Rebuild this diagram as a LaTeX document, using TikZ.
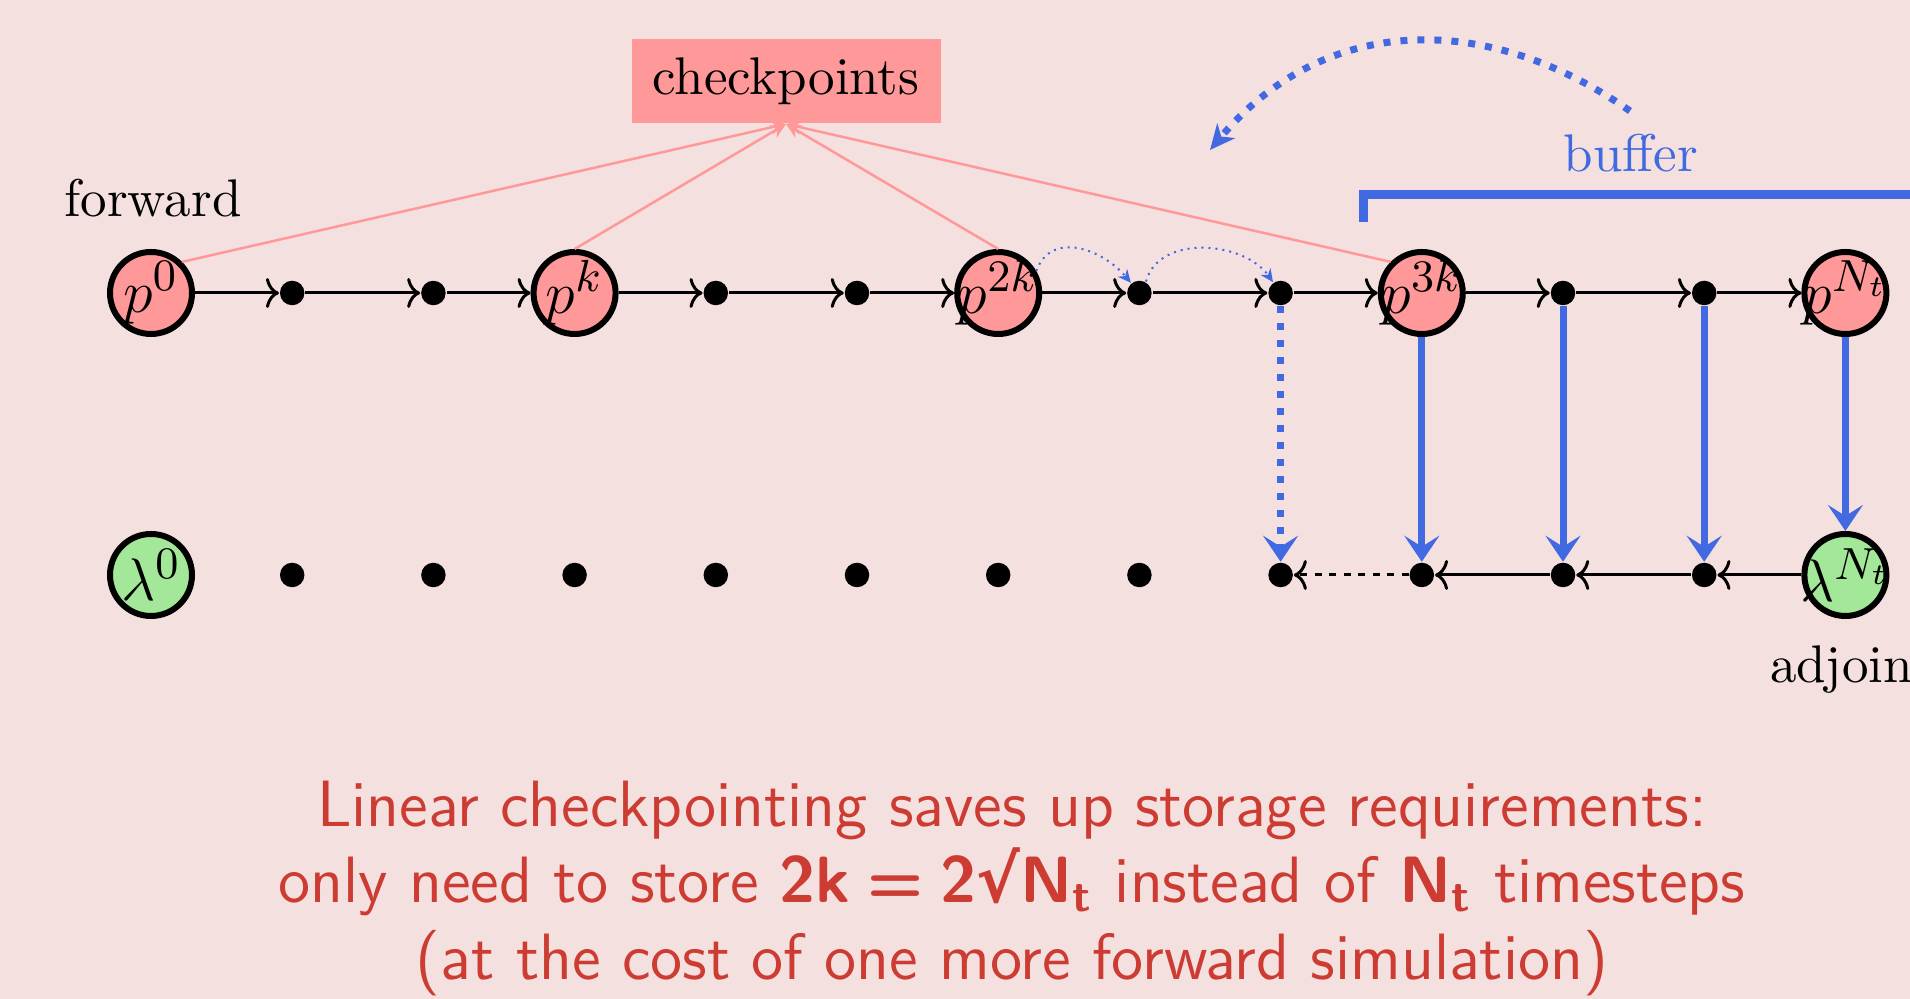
\documentclass[tikz,border=0pt]{standalone}
\usepackage{fontspec}
\newfontfamily\dvs{DejaVu Sans}
\usetikzlibrary{arrows.meta}
\definecolor{bg}{RGB}{245,224,224}
\definecolor{cpred}{RGB}{255,153,153}
\definecolor{adjgreen}{RGB}{163,231,152}
\definecolor{bufblue}{RGB}{65,105,225}
\definecolor{msgred}{RGB}{205,60,50}
\tikzset{
  pn/.style={circle, draw=black, line width=1.2pt, fill=cpred, minimum size=16.4pt, inner sep=0pt, font=\fontsize{12.5}{15}\selectfont},
  an/.style={pn, fill=adjgreen},
  dn/.style={circle, fill=black, minimum size=4.9pt, inner sep=0pt},
  fwd/.style={-{To[length=2.6pt,width=6pt]}, line width=0.6pt, draw=black},
  bwdash/.style={-{To[length=2.6pt,width=6pt]}, line width=0.6pt, draw=black, dash pattern=on 1.4pt off 1.5pt},
  cpl/.style={-{Stealth[length=3pt,width=2.8pt]}, line width=0.5pt, draw=cpred},
  bdown/.style={-{Stealth[length=5.2pt,width=7pt,inset=2.2pt]}, line width=1.4pt, draw=bufblue},
  bdot/.style={-{Stealth[length=5.2pt,width=7pt,inset=2.2pt]}, line width=1.4pt, draw=bufblue, dotted},
  smarc/.style={-{Stealth[length=2.6pt,width=2.4pt]}, line width=0.4pt, draw=bufblue, densely dotted},
  bigarc/.style={-{Stealth[length=5pt,width=4.6pt,inset=1.5pt]}, line width=1.4pt, draw=bufblue, dotted},
  bufbr/.style={line width=1.8pt, draw=bufblue},
  lbl/.style={inner sep=0pt, font=\fontsize{10.6}{12.7}\selectfont},
  msg/.style={inner sep=0pt, text=msgred, font=\sffamily\fontsize{13.1}{15.3}\selectfont},
  cpbox/.style={fill=cpred, minimum width=61.8pt, minimum height=16.8pt, inner sep=0pt, font=\fontsize{10.6}{12.7}\selectfont}
}
\begin{document}
\begin{tikzpicture}[x=0.2pt,y=0.2pt]
\fill[bg] (0,0) rectangle (1910,999);
\useasboundingbox (0,0) rectangle (1910,999);
% top row
\node[pn] (t0) at (151,706) {\makebox[0pt]{$p^{0}$}};
\node[pn] (t3) at ({151+141.2*3},706) {\makebox[0pt]{$p^{k}$}};
\node[pn] (t6) at ({151+141.2*6},706) {\makebox[0pt]{$p^{2k}$}};
\node[pn] (t9) at ({151+141.2*9},706) {\makebox[0pt]{$p^{3k}$}};
\node[pn] (t12) at ({151+141.2*12},706) {\makebox[0pt]{$p^{N_t}$}};
\foreach \i in {1,2,4,5,7,8,10,11} \node[dn] (t\i) at ({151+141.2*\i},706) {};
% bottom row
\node[an] (b0) at (151,424) {\makebox[0pt]{$\lambda^{0}$}};
\node[an] (b12) at ({151+141.2*12},424) {\makebox[0pt]{$\lambda^{N_t}$}};
\foreach \i in {1,...,11} \node[dn] (b\i) at ({151+141.2*\i},424) {};
% forward arrows
\foreach \i [evaluate=\i as \j using int(\i+1)] in {0,...,11} \draw[fwd] (t\i) -- (t\j);
% backward arrows
\draw[fwd] (b12) -- (b11);
\draw[fwd] (b11) -- (b10);
\draw[fwd] (b10) -- (b9);
\draw[bwdash] (b9) -- (b8);
% blue verticals
\draw[bdot] (t8) -- (b8);
\foreach \i in {9,10,11,12} \draw[bdown] (t\i) -- (b\i);
% checkpoints
\node[cpbox] (cp) at (786,918) {checkpoints};
\draw[cpl] (t0.north east) -- (cp.south);
\draw[cpl] (t3.north) -- (cp.south);
\draw[cpl] (t6.north) -- (cp.south);
\draw[cpl] (t9.north west) -- (cp.south);
% small recompute arcs
\draw[smarc] (t6.30) to[out=70,in=130,looseness=1.18] (t7.130);
\draw[smarc] (t7.60) to[out=75,in=125] (t8.125);
% buffer
\coordinate (bA) at (1363,777);
\coordinate (bB) at (1363,804);
\coordinate (bC) at (1930,804);
\draw[bufbr] (bA) -- (bB) -- (bC);
\node[lbl, anchor=base, text=bufblue] (bf) at (1631,827) {buffer};
\coordinate (arcS) at (1630,888);
\coordinate (arcE) at (1210,849);
\draw[bigarc] (arcS) to[out=145,in=50,looseness=1.07] (arcE);
% labels
\node[lbl, anchor=base] (fw) at (153,782) {forward};
\node[lbl, anchor=base west] (adj) at (1769,316) {adjoin};
% message
\node[msg, anchor=base] (m1) at (1012,172) {Linear checkpointing saves up storage requirements:};
\node[msg, anchor=base] (m2) at (1012,96) {only need to store \textbf{2k\hspace{0.26em}=\hspace{0.26em}2{\dvs √}N\textsubscript{t}} instead of \textbf{N\textsubscript{t}} timesteps};
\node[msg, anchor=base] (m3) at (1012,19) {(at the cost of one more forward simulation)};
\end{tikzpicture}
\end{document}
